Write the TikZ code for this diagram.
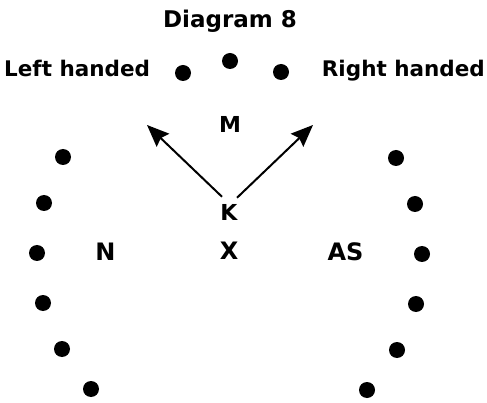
\documentclass[tikz,border=0pt]{standalone}
\usepackage{fontspec}
\setmainfont{DejaVu Sans}
\usetikzlibrary{arrows.meta}
\begin{document}
\begin{tikzpicture}[x=1pt,y=-1pt,
  dot/.style={circle,fill=black,inner sep=0pt,minimum size=16pt},
  lbl/.style={inner sep=0pt,anchor=base,font=\bfseries\fontsize{22}{24}\selectfont},
  arr/.style={line width=2pt,-{Stealth[length=22pt,width=18pt,inset=3pt]}}]
\useasboundingbox (0,0) rectangle (487,403);
\node[lbl,font=\bfseries\fontsize{23}{26}\selectfont] (title) at (230,28) {Diagram 8};
\node[lbl,anchor=base west,font=\bfseries\fontsize{21.5}{24}\selectfont] (lh) at (4,77) {Left handed};
\node[lbl,anchor=base east,font=\bfseries\fontsize{21.5}{24}\selectfont] (rh) at (485,77) {Right handed};
\node[dot] (t1) at (183,73) {};
\node[dot] (t2) at (230,61) {};
\node[dot] (t3) at (281,72) {};
\node[lbl] (M) at (230,133) {M};
\node[lbl] (K) at (229,221) {K};
\node[lbl,font=\bfseries\fontsize{24}{26}\selectfont] (X) at (229,260) {X};
\node[lbl,font=\bfseries\fontsize{24}{26}\selectfont] (N) at (105.5,261) {N};
\node[lbl,font=\bfseries\fontsize{24}{26}\selectfont] (AS) at (345.5,261) {AS};
\node[dot] (l1) at (63,157) {};
\node[dot] (l2) at (44,203) {};
\node[dot] (l3) at (37,253) {};
\node[dot] (l4) at (43,303) {};
\node[dot] (l5) at (62,349) {};
\node[dot] (l6) at (91,389) {};
\node[dot] (r1) at (396,158) {};
\node[dot] (r2) at (415,204) {};
\node[dot] (r3) at (422,254) {};
\node[dot] (r4) at (416,304) {};
\node[dot] (r5) at (397,350) {};
\node[dot] (r6) at (367,390) {};
\coordinate (tipL) at (147,125);
\coordinate (tipR) at (313,125);
\draw[arr] ([xshift=-7pt,yshift=8pt]K.north) -- (tipL);
\draw[arr] ([xshift=8pt,yshift=7pt]K.north) -- (tipR);
\end{tikzpicture}
\end{document}
